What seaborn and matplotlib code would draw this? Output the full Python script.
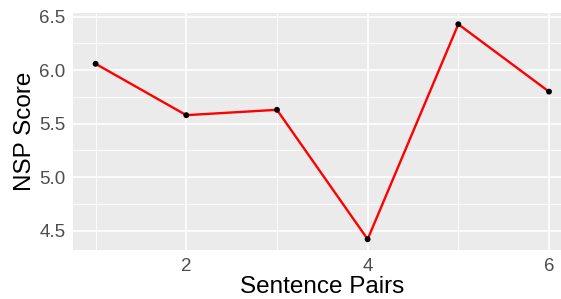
import matplotlib
matplotlib.use("Agg")
import matplotlib.pyplot as plt
import seaborn as sns
import pandas as pd
from matplotlib.ticker import MultipleLocator

# values
sentence_pairs = [1, 2, 3, 4, 5, 6]
nsp_scores = [6.06, 5.58, 5.63, 4.42, 6.43, 5.80]

df = pd.DataFrame({"pair": sentence_pairs, "score": nsp_scores})

sns.set_theme(style="darkgrid", rc={
    "axes.facecolor": "#EBEBEB",
    "grid.color": "white",
    "axes.edgecolor": "#EBEBEB",
})
plt.rcParams["font.family"] = ["Liberation Sans", "DejaVu Sans"]

fig = plt.figure(figsize=(5.61, 2.99), dpi=100)
# panel runs past the right edge, like the cropped reference
ax = fig.add_axes([0.130, 0.1639, 0.889, 0.791])

sns.lineplot(data=df, x="pair", y="score", color="red", linewidth=1.7, ax=ax, zorder=3)
sns.scatterplot(data=df, x="pair", y="score", color="black", s=18, edgecolor="none", ax=ax, zorder=4)

ax.set_xlim(0.75, 6.25)
ax.set_ylim(4.3195, 6.5305)
ax.xaxis.set_major_locator(MultipleLocator(2))
ax.xaxis.set_minor_locator(MultipleLocator(1))
ax.yaxis.set_major_locator(MultipleLocator(0.5))
ax.yaxis.set_minor_locator(MultipleLocator(0.25))
ax.yaxis.set_major_formatter(matplotlib.ticker.FormatStrFormatter("%.1f"))

ax.grid(which="major", color="white", linewidth=1.2)
ax.grid(which="minor", color="white", linewidth=0.6)
for s in ax.spines.values():
    s.set_visible(False)

ax.tick_params(which="major", length=3.5, width=0.6, color="#333333",
               labelsize=13.5, labelcolor="#4D4D4D", pad=2)
ax.tick_params(which="minor", length=0)

ax.set_xlabel("Sentence Pairs", fontsize=17.5, color="black", labelpad=1)
ax.set_ylabel("NSP Score", fontsize=17.5, color="black", labelpad=2)

fig.savefig("out.png", dpi=100)
